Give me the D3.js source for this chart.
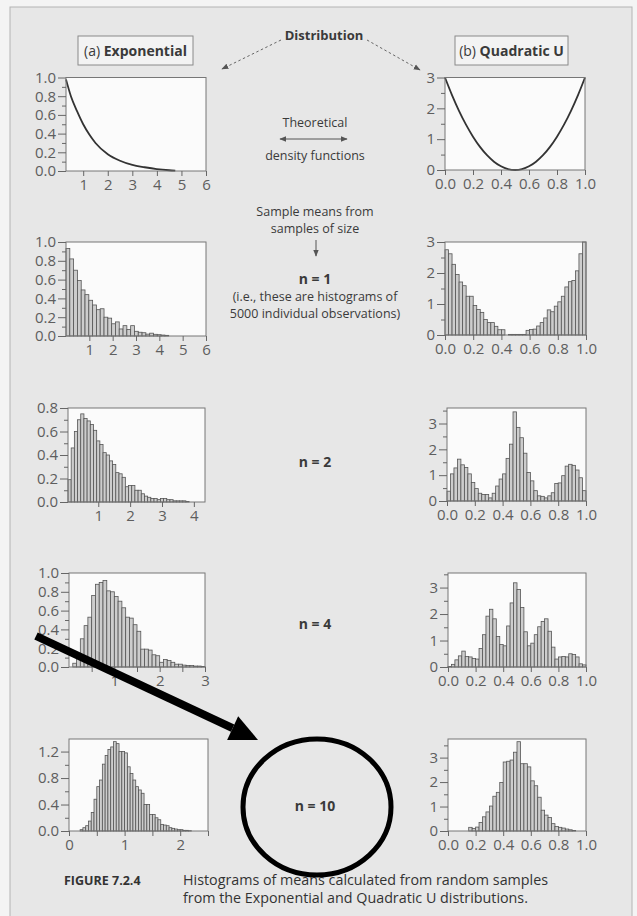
<!DOCTYPE html>
<html>
<head>
<meta charset="utf-8">
<script src="https://cdn.jsdelivr.net/npm/d3@7"></script>
<style>
  body { margin: 0; background: #f4f4f4; }
  svg { display: block; font-family: "Open Sans", sans-serif; }
</style>
</head>
<body>
<div id="chart"></div>
<script>
// theoretical density curves
var expCurveX = [0.3, 0.5, 0.75, 1, 1.25, 1.5, 2, 2.5, 3, 3.5, 4, 4.5, 4.75];
var expCurveY = [0.98, 0.80, 0.64, 0.50, 0.39, 0.30, 0.18, 0.11, 0.065, 0.04, 0.02, 0.008, 0.004];
var quadCurveX = [0, 0.05, 0.1, 0.15, 0.2, 0.25, 0.3, 0.35, 0.4, 0.45, 0.5, 0.55, 0.6, 0.65, 0.7, 0.75, 0.8, 0.85, 0.9, 0.95, 1];
var quadCurveY = [3, 2.43, 1.92, 1.47, 1.08, 0.75, 0.48, 0.27, 0.12, 0.03, 0, 0.03, 0.12, 0.27, 0.48, 0.75, 1.08, 1.47, 1.92, 2.43, 3];

// histogram heights, one value per bin
var expN1 = [0.93, 0.82, 0.70, 0.59, 0.49, 0.44, 0.38, 0.33, 0.28, 0.29, 0.20, 0.19, 0.13, 0.15, 0.075, 0.11, 0.07, 0.11, 0.05, 0.04, 0.035, 0.02, 0.03, 0.018, 0.014, 0.01, 0.007];
var quadN1 = [2.75, 2.62, 2.28, 1.95, 1.71, 1.59, 1.25, 1.25, 0.95, 0.82, 0.73, 0.50, 0.40, 0.40, 0.28, 0.17, 0.17, 0, 0.02, 0.02, 0.02, 0.02, 0.02, 0.15, 0.18, 0.19, 0.29, 0.40, 0.55, 0.81, 0.75, 0.93, 1.07, 1.25, 1.55, 1.72, 1.76, 2.07, 2.62, 3.0];
var expN2 = [0.19, 0.46, 0.60, 0.70, 0.75, 0.71, 0.69, 0.66, 0.61, 0.52, 0.49, 0.42, 0.40, 0.35, 0.32, 0.25, 0.24, 0.21, 0.13, 0.14, 0.14, 0.10, 0.10, 0.07, 0.05, 0.04, 0.03, 0.03, 0.02, 0.03, 0.03, 0.02, 0.02, 0.01, 0.01, 0.01, 0.01, 0.005];
var quadN2 = [0.38, 1.05, 1.28, 1.62, 1.40, 1.30, 1.05, 0.72, 0.48, 0.30, 0.25, 0.25, 0.12, 0.30, 0.58, 0.85, 1.05, 1.65, 2.20, 3.45, 2.85, 2.45, 1.85, 1.10, 0.78, 0.40, 0.20, 0.18, 0.12, 0.20, 0.32, 0.68, 0.70, 0.98, 1.35, 1.42, 1.38, 1.20, 0.90, 0.40];
var expN4 = [0, 0.04, 0.12, 0.30, 0.44, 0.53, 0.76, 0.88, 0.90, 0.92, 0.81, 0.80, 0.75, 0.70, 0.63, 0.53, 0.52, 0.45, 0.38, 0.19, 0.19, 0.18, 0.13, 0.12, 0.05, 0.08, 0.07, 0.05, 0.03, 0.03, 0.02, 0.015, 0.015, 0.01, 0.01, 0.005];
var quadN4 = [0.02, 0.10, 0.27, 0.42, 0.60, 0.40, 0.38, 0.32, 0.30, 0.70, 1.22, 1.92, 2.18, 1.82, 1.15, 0.85, 0.80, 1.55, 2.42, 3.18, 2.93, 2.25, 1.33, 0.80, 0.90, 1.22, 1.52, 1.72, 1.82, 1.35, 0.75, 0.30, 0.38, 0.40, 0.38, 0.50, 0.47, 0.38, 0.12, 0.08];
var expN10 = [0.02, 0.05, 0.08, 0.15, 0.28, 0.48, 0.67, 0.77, 1.01, 1.14, 1.23, 1.27, 1.35, 1.32, 1.20, 1.20, 1.18, 0.97, 0.87, 0.77, 0.67, 0.62, 0.57, 0.40, 0.40, 0.25, 0.25, 0.20, 0.17, 0.10, 0.09, 0.08, 0.05, 0.04, 0.03, 0.02, 0.02, 0.01, 0.01, 0.005];
var quadN10 = [0.15, 0.10, 0.16, 0.35, 0.58, 0.78, 1.02, 1.42, 1.58, 1.98, 2.82, 2.85, 2.90, 3.22, 3.65, 2.75, 2.75, 2.62, 2.05, 1.85, 1.38, 0.85, 0.65, 0.55, 0.30, 0.18, 0.15, 0.12, 0.08, 0.05, 0.02];

// bin starts / widths
var binStart = { expN1: 0, quadN1: 0, expN2: 0.05, quadN2: 0, expN4: 0, quadN4: 0, expN10: 0.2, quadN10: 0.15 };
var binWidth = { expN1: 0.163, quadN1: 0.025, expN2: 0.1, quadN2: 0.025, expN4: 1 / 12, quadN4: 0.025, expN10: 0.05, quadN10: 0.025 };

// tick values
var unitTicks = [0, 0.2, 0.4, 0.6, 0.8, 1.0];
var unitMinor = [0.1, 0.3, 0.5, 0.7, 0.9];
var quadYTicks = [0, 1, 2, 3];
var quadYMinor = [0.5, 1.5, 2.5];
var quadYMinorTall = [0.5, 1.5, 2.5, 3.5];

var W = 637, H = 916;
var svg = d3.select("#chart").append("svg").attr("width", W).attr("height", H);

// page + frame
svg.append("rect").attr("width", W).attr("height", H).attr("fill", "#f4f4f4");
svg.append("rect").attr("x", 10).attr("y", 7).attr("width", 622).attr("height", 920)
    .attr("fill", "#e7e7e7").attr("stroke", "#b4b4b4");

var defs = svg.append("defs");
defs.append("marker").attr("id", "head").attr("viewBox", "0 0 10 10")
    .attr("refX", 9).attr("refY", 5).attr("markerWidth", 7).attr("markerHeight", 7)
    .attr("orient", "auto-start-reverse")
    .append("path").attr("d", "M0,1 L10,5 L0,9 Z").attr("fill", "#555");

var panels = [
    { box: [66, 206, 77.5, 171], xd: [0.3, 6], yd: [0, 1], curve: [expCurveX, expCurveY],
      xt: [1, 2, 3, 4, 5, 6], xl: [1, 2, 3, 4, 5, 6], xf: d3.format("d"), yt: unitTicks, ym: unitMinor, yf: d3.format(".1f") },
    { box: [445, 585, 77.5, 170], xd: [0, 1], yd: [0, 3], curve: [quadCurveX, quadCurveY],
      xt: unitTicks, xl: unitTicks, xf: d3.format(".1f"), yt: quadYTicks, ym: quadYMinor, yf: d3.format("d") },
    { box: [66, 206, 242, 336], xd: [0, 6], yd: [0, 1], bars: "expN1", vals: expN1,
      xt: [1, 2, 3, 4, 5, 6], xl: [1, 2, 3, 4, 5, 6], xf: d3.format("d"), yt: unitTicks, ym: unitMinor, yf: d3.format(".1f") },
    { box: [445, 586, 242, 335], xd: [0, 1], yd: [0, 3], bars: "quadN1", vals: quadN1,
      xt: unitTicks, xl: unitTicks, xf: d3.format(".1f"), yt: quadYTicks, ym: quadYMinor, yf: d3.format("d") },
    { box: [68, 205, 408, 502], xd: [0.05, 4.35], yd: [0, 0.8], bars: "expN2", vals: expN2,
      xt: [1, 2, 3, 4], xl: [1, 2, 3, 4], xf: d3.format("d"), yt: [0, 0.2, 0.4, 0.6, 0.8], ym: [0.1, 0.3, 0.5, 0.7], yf: d3.format(".1f") },
    { box: [447, 586, 408, 501], xd: [0, 1], yd: [0, 3.6], bars: "quadN2", vals: quadN2,
      xt: unitTicks, xl: unitTicks, xf: d3.format(".1f"), yt: quadYTicks, ym: quadYMinorTall, yf: d3.format("d") },
    { box: [69, 205, 573, 667], xd: [0, 3], yd: [0, 1], bars: "expN4", vals: expN4,
      xt: [0.5, 1, 1.5, 2, 2.5, 3], xl: [1, 2, 3], xf: d3.format("d"), yt: unitTicks, ym: unitMinor, yf: d3.format(".1f") },
    { box: [448, 586, 573, 667], xd: [0, 1], yd: [0, 3.55], bars: "quadN4", vals: quadN4,
      xt: unitTicks, xl: unitTicks, xf: d3.format(".1f"), yt: quadYTicks, ym: quadYMinorTall, yf: d3.format("d") },
    { box: [69, 208, 739, 831], xd: [0, 2.5], yd: [0, 1.39], bars: "expN10", vals: expN10,
      xt: [0, 0.5, 1, 1.5, 2, 2.5], xl: [0, 1, 2], xf: d3.format("d"), yt: [0, 0.4, 0.8, 1.2], ym: [0.2, 0.6, 1.0], yf: d3.format(".1f") },
    { box: [448, 586, 739, 831], xd: [0, 1], yd: [0, 3.76], bars: "quadN10", vals: quadN10,
      xt: unitTicks, xl: unitTicks, xf: d3.format(".1f"), yt: quadYTicks, ym: quadYMinorTall, yf: d3.format("d") }
];

panels.forEach(function(p) {
    var x = d3.scaleLinear().domain(p.xd).range([p.box[0], p.box[1]]);
    var y = d3.scaleLinear().domain(p.yd).range([p.box[3], p.box[2]]);
    var g = svg.append("g");

    g.append("rect")
        .attr("x", p.box[0]).attr("y", p.box[2])
        .attr("width", p.box[1] - p.box[0]).attr("height", p.box[3] - p.box[2])
        .attr("fill", "#fbfbfb");

    if (p.curve) {
        var pts = p.curve[0].map(function(d, i) { return [d, p.curve[1][i]]; });
        g.append("path")
            .attr("d", d3.line().x(d => x(d[0])).y(d => y(d[1])).curve(d3.curveMonotoneX)(pts))
            .attr("fill", "none").attr("stroke", "#333").attr("stroke-width", 1.8);
    }

    if (p.bars) {
        var s = binStart[p.bars], w = binWidth[p.bars];
        g.selectAll("rect.bar")
            .data(p.vals.map((v, i) => ({ a: s + i * w, b: s + (i + 1) * w, v: v })).filter(d => d.v > 0))
            .enter().append("rect")
            .attr("class", "bar")
            .attr("x", d => x(d.a))
            .attr("width", d => x(d.b) - x(d.a))
            .attr("y", d => y(d.v))
            .attr("height", d => y(0) - y(d.v))
            .attr("fill", "#cdcdcd").attr("stroke", "#555").attr("stroke-width", 0.8);
    }

    g.append("rect")
        .attr("x", p.box[0]).attr("y", p.box[2])
        .attr("width", p.box[1] - p.box[0]).attr("height", p.box[3] - p.box[2])
        .attr("fill", "none").attr("stroke", "#777");

    // y axis: minor then major ticks
    g.append("g").attr("transform", "translate(" + p.box[0] + ",0)")
        .call(d3.axisLeft(y).tickValues(p.ym).tickSize(4).tickFormat(""));
    g.append("g").attr("transform", "translate(" + p.box[0] + ",0)")
        .call(d3.axisLeft(y).tickValues(p.yt).tickSize(8).tickPadding(2).tickFormat(p.yf));

    // x axis
    g.append("g").attr("transform", "translate(0," + p.box[3] + ")")
        .call(d3.axisBottom(x).tickValues(p.xt).tickSize(5).tickPadding(3)
            .tickFormat(d => p.xl.some(l => Math.abs(l - d) < 1e-9) ? p.xf(d) : ""));
});

svg.selectAll(".domain").remove();
svg.selectAll(".tick line").attr("stroke", "#666");
svg.selectAll(".tick text").attr("fill", "#5e5e5e").style("font-size", "15px")
    .style("font-family", "'Open Sans', sans-serif");

// headings
function titleBox(x0, x1, pre, bold) {
    svg.append("rect").attr("x", x0).attr("y", 36).attr("width", x1 - x0).attr("height", 29)
        .attr("fill", "#f3f3f3").attr("stroke", "#8a8a8a");
    var t = svg.append("text").attr("x", (x0 + x1) / 2).attr("y", 56)
        .attr("text-anchor", "middle").attr("fill", "#3a3a3a").style("font-size", "14px");
    t.append("tspan").text(pre);
    t.append("tspan").attr("font-weight", 700).text(bold);
}
titleBox(78, 193, "(a) ", "Exponential");
titleBox(455, 568, "(b) ", "Quadratic U");

svg.append("text").attr("x", 324).attr("y", 40).attr("text-anchor", "middle")
    .attr("fill", "#3a3a3a").attr("font-weight", 700).style("font-size", "13px").text("Distribution");
svg.append("line").attr("x1", 281).attr("y1", 40).attr("x2", 222).attr("y2", 69)
    .attr("stroke", "#666").attr("stroke-dasharray", "2.5,2.5").attr("marker-end", "url(#head)");
svg.append("line").attr("x1", 367).attr("y1", 40).attr("x2", 420).attr("y2", 70)
    .attr("stroke", "#666").attr("stroke-dasharray", "2.5,2.5").attr("marker-end", "url(#head)");

// middle column
var mid = [
    ["Theoretical", 127, 400], ["density functions", 160, 400],
    ["Sample means from", 216, 400], ["samples of size", 233, 400],
    ["n = 1", 284, 700], ["(i.e., these are histograms of", 301, 400], ["5000 individual observations)", 318, 400],
    ["n = 2", 467, 700], ["n = 4", 629, 700], ["n = 10", 811, 700]
];
mid.forEach(function(m) {
    svg.append("text").attr("x", 315).attr("y", m[1]).attr("text-anchor", "middle")
        .attr("fill", "#3a3a3a").attr("font-weight", m[2])
        .style("font-size", m[2] === 700 ? "14px" : "12.5px").text(m[0]);
});
svg.append("line").attr("x1", 280).attr("y1", 139).attr("x2", 347).attr("y2", 139)
    .attr("stroke", "#555").attr("marker-start", "url(#head)").attr("marker-end", "url(#head)");
svg.append("line").attr("x1", 316).attr("y1", 240).attr("x2", 316).attr("y2", 256)
    .attr("stroke", "#555").attr("marker-end", "url(#head)");

// caption
svg.append("text").attr("x", 64).attr("y", 885).attr("fill", "#333").attr("font-weight", 700)
    .style("font-size", "12.5px").text("FIGURE 7.2.4");
svg.append("text").attr("x", 183).attr("y", 885).attr("fill", "#333").style("font-size", "14.3px")
    .text("Histograms of means calculated from random samples");
svg.append("text").attr("x", 183).attr("y", 903).attr("fill", "#333").style("font-size", "14.3px")
    .text("from the Exponential and Quadratic U distributions.");

// hand-drawn annotation: arrow and circle
var tip = [258, 740], tail = [36, 636];
var ang = Math.atan2(tip[1] - tail[1], tip[0] - tail[0]);
var hl = 28, hw = 13;
var base = [tip[0] - hl * Math.cos(ang), tip[1] - hl * Math.sin(ang)];
svg.append("line").attr("x1", tail[0]).attr("y1", tail[1]).attr("x2", base[0]).attr("y2", base[1])
    .attr("stroke", "#000").attr("stroke-width", 8);
svg.append("path")
    .attr("d", "M" + tip + "L" + [base[0] + hw * Math.sin(ang), base[1] - hw * Math.cos(ang)] +
        "L" + [base[0] - hw * Math.sin(ang), base[1] + hw * Math.cos(ang)] + "Z")
    .attr("fill", "#000");
svg.append("ellipse").attr("cx", 317).attr("cy", 807).attr("rx", 74).attr("ry", 68)
    .attr("fill", "none").attr("stroke", "#000").attr("stroke-width", 5);
</script>
</body>
</html>
